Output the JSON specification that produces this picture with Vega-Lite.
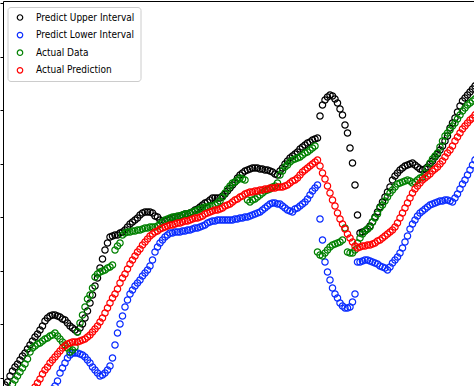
{
"$schema":"https://vega.github.io/schema/vega-lite/v6.json",
"width":471,"height":385,
"autosize":{"type":"none"},
"padding":{"left":3,"top":1,"right":0,"bottom":0},
"background":"white",
"config":{"view":{"stroke":null}},
"data":{"values":[
{"t":0,"u":15,"l":-45,"a":0,"r":-30},{"t":1,"u":18,"l":-43,"a":5,"r":-27},{"t":2,"u":24,"l":-40,"a":10,"r":-23},{"t":3,"u":29,"l":-37,"a":16,"r":-19},{"t":4,"u":33,"l":-34,"a":20,"r":-16},{"t":5,"u":36,"l":-31,"a":24,"r":-13},{"t":6,"u":40,"l":-28,"a":28,"r":-10},{"t":7,"u":44,"l":-25,"a":32,"r":-6},{"t":8,"u":47,"l":-22,"a":36,"r":-2},{"t":9,"u":51,"l":-19,"a":41,"r":1},
{"t":10,"u":55,"l":-16,"a":48,"r":5},{"t":11,"u":59,"l":-13,"a":52,"r":9},{"t":12,"u":63,"l":-10,"a":54,"r":13},{"t":13,"u":66,"l":-7,"a":56,"r":17},{"t":14,"u":70,"l":-4,"a":57,"r":21},{"t":15,"u":74,"l":-1,"a":59,"r":26},{"t":16,"u":79,"l":2,"a":61,"r":30},{"t":17,"u":82,"l":5,"a":62,"r":33},{"t":18,"u":84,"l":8,"a":64,"r":37},{"t":19,"u":85,"l":11,"a":65,"r":40},
{"t":20,"u":85,"l":14,"a":67,"r":43},{"t":21,"u":84,"l":19,"a":64,"r":46},{"t":22,"u":83,"l":27,"a":61,"r":49},{"t":23,"u":81,"l":32,"a":58,"r":52},{"t":24,"u":80,"l":37,"a":55,"r":54},{"t":25,"u":77,"l":42,"a":52,"r":56},{"t":26,"u":74,"l":45,"a":48,"r":57},{"t":27,"u":72,"l":47,"a":50,"r":58},{"t":28,"u":70,"l":47,"a":53,"r":58},{"t":29,"u":68,"l":47,"a":68,"r":58},
{"t":30,"u":72,"l":46,"a":77,"r":59},{"t":31,"u":76,"l":45,"a":85,"r":60},{"t":32,"u":82,"l":43,"a":93,"r":61},{"t":33,"u":89,"l":40,"a":101,"r":63},{"t":34,"u":97,"l":37,"a":105,"r":65},{"t":35,"u":105,"l":33,"a":112,"r":68},{"t":36,"u":114,"l":30,"a":123,"r":71},{"t":37,"u":122,"l":27,"a":126,"r":74},{"t":38,"u":132,"l":24,"a":128,"r":78},{"t":39,"u":141,"l":25,"a":129,"r":82},
{"t":40,"u":150,"l":27,"a":130,"r":87},{"t":41,"u":157,"l":30,"a":132,"r":92},{"t":42,"u":163,"l":34,"a":133,"r":97},{"t":43,"u":164,"l":42,"a":135,"r":102},{"t":44,"u":165,"l":55,"a":150,"r":106},{"t":45,"u":165,"l":67,"a":154,"r":111},{"t":46,"u":167,"l":76,"a":157,"r":117},{"t":47,"u":168,"l":84,"a":165,"r":122},{"t":48,"u":170,"l":93,"a":167,"r":126},{"t":49,"u":173,"l":100,"a":168,"r":131},
{"t":50,"u":176,"l":106,"a":168,"r":136},{"t":51,"u":178,"l":110,"a":169,"r":140},{"t":52,"u":180,"l":114,"a":169,"r":144},{"t":53,"u":182,"l":117,"a":170,"r":148},{"t":54,"u":185,"l":120,"a":170,"r":151},{"t":55,"u":187,"l":124,"a":171,"r":155},{"t":56,"u":188,"l":127,"a":172,"r":158},{"t":57,"u":188,"l":130,"a":172,"r":161},{"t":58,"u":188,"l":134,"a":173,"r":164},{"t":59,"u":187,"l":140,"a":173,"r":166},
{"t":60,"u":184,"l":148,"a":173,"r":168},{"t":61,"u":183,"l":153,"a":174,"r":169},{"t":62,"u":180,"l":157,"a":176,"r":171},{"t":63,"u":178,"l":160,"a":178,"r":172},{"t":64,"u":179,"l":163,"a":180,"r":173},{"t":65,"u":180,"l":165,"a":181,"r":174},{"t":66,"u":181,"l":167,"a":182,"r":175},{"t":67,"u":182,"l":167,"a":183,"r":175},{"t":68,"u":183,"l":168,"a":183,"r":176},{"t":69,"u":183,"l":168,"a":184,"r":177},
{"t":70,"u":184,"l":168,"a":184,"r":177},{"t":71,"u":185,"l":169,"a":185,"r":178},{"t":72,"u":186,"l":169,"a":186,"r":179},{"t":73,"u":186,"l":170,"a":186,"r":179},{"t":74,"u":187,"l":170,"a":187,"r":180},{"t":75,"u":188,"l":171,"a":188,"r":181},{"t":76,"u":190,"l":172,"a":189,"r":182},{"t":77,"u":191,"l":172,"a":190,"r":182},{"t":78,"u":193,"l":173,"a":191,"r":183},{"t":79,"u":195,"l":174,"a":192,"r":184},
{"t":80,"u":197,"l":175,"a":193,"r":186},{"t":81,"u":198,"l":177,"a":193,"r":187},{"t":82,"u":200,"l":178,"a":194,"r":188},{"t":83,"u":202,"l":179,"a":194,"r":189},{"t":84,"u":202,"l":179,"a":195,"r":190},{"t":85,"u":202,"l":180,"a":197,"r":190},{"t":86,"u":202,"l":180,"a":199,"r":191},{"t":87,"u":204,"l":180,"a":203,"r":192},{"t":88,"u":206,"l":180,"a":207,"r":194},{"t":89,"u":209,"l":180,"a":211,"r":195},
{"t":90,"u":212,"l":180,"a":214,"r":196},{"t":91,"u":215,"l":180,"a":217,"r":198},{"t":92,"u":218,"l":181,"a":218,"r":200},{"t":93,"u":222,"l":181,"a":220,"r":201},{"t":94,"u":225,"l":182,"a":222,"r":203},{"t":95,"u":227,"l":182,"a":221,"r":204},{"t":96,"u":229,"l":183,"a":220,"r":206},{"t":97,"u":230,"l":183,"a":200,"r":207},{"t":98,"u":231,"l":184,"a":198,"r":208},{"t":99,"u":232,"l":185,"a":200,"r":208},
{"t":100,"u":232,"l":186,"a":201,"r":209},{"t":101,"u":232,"l":187,"a":203,"r":209},{"t":102,"u":231,"l":188,"a":205,"r":210},{"t":103,"u":231,"l":190,"a":207,"r":210},{"t":104,"u":230,"l":192,"a":209,"r":211},{"t":105,"u":230,"l":194,"a":210,"r":211},{"t":106,"u":229,"l":196,"a":211,"r":212},{"t":107,"u":228,"l":197,"a":213,"r":212},{"t":108,"u":226,"l":197,"a":214,"r":212},{"t":109,"u":225,"l":196,"a":217,"r":213},
{"t":110,"u":229,"l":196,"a":225,"r":213},{"t":111,"u":232,"l":194,"a":229,"r":213},{"t":112,"u":236,"l":192,"a":233,"r":214},{"t":113,"u":239,"l":190,"a":235,"r":215},{"t":114,"u":242,"l":189,"a":238,"r":217},{"t":115,"u":244,"l":188,"a":240,"r":219},{"t":116,"u":246,"l":191,"a":241,"r":220},{"t":117,"u":248,"l":192,"a":242,"r":222},{"t":118,"u":251,"l":194,"a":243,"r":225},{"t":119,"u":253,"l":196,"a":245,"r":228},
{"t":120,"u":255,"l":198,"a":247,"r":230},{"t":121,"u":257,"l":201,"a":248,"r":232},{"t":122,"u":258,"l":205,"a":250,"r":234},{"t":123,"u":260,"l":209,"a":252,"r":236},{"t":124,"u":261,"l":212,"a":254,"r":238},{"t":125,"u":262,"l":215,"a":148,"r":240},{"t":126,"u":284,"l":181,"a":145,"r":234},{"t":127,"u":295,"l":160,"a":144,"r":227},{"t":128,"u":300,"l":138,"a":147,"r":221},{"t":129,"u":303,"l":128,"a":150,"r":214},
{"t":130,"u":305,"l":120,"a":153,"r":207},{"t":131,"u":304,"l":112,"a":155,"r":200},{"t":132,"u":301,"l":106,"a":156,"r":194},{"t":133,"u":297,"l":102,"a":157,"r":187},{"t":134,"u":291,"l":97,"a":158,"r":181},{"t":135,"u":285,"l":94,"a":160,"r":176},{"t":136,"u":275,"l":92,"a":172,"r":171},{"t":137,"u":267,"l":92,"a":148,"r":166},{"t":138,"u":252,"l":93,"a":147,"r":162},{"t":139,"u":237,"l":98,"a":147,"r":158},
{"t":140,"u":215,"l":106,"a":150,"r":154},{"t":141,"u":185,"l":138,"a":157,"r":152},{"t":142,"u":167,"l":138,"a":162,"r":153},{"t":143,"u":168,"l":139,"a":166,"r":154},{"t":144,"u":169,"l":140,"a":169,"r":154},{"t":145,"u":171,"l":140,"a":171,"r":155},{"t":146,"u":174,"l":139,"a":173,"r":155},{"t":147,"u":178,"l":138,"a":178,"r":156},{"t":148,"u":183,"l":137,"a":182,"r":157},{"t":149,"u":188,"l":136,"a":186,"r":159},
{"t":150,"u":193,"l":134,"a":192,"r":160},{"t":151,"u":198,"l":133,"a":195,"r":162},{"t":152,"u":203,"l":132,"a":199,"r":164},{"t":153,"u":208,"l":130,"a":203,"r":166},{"t":154,"u":213,"l":133,"a":207,"r":168},{"t":155,"u":220,"l":137,"a":210,"r":170},{"t":156,"u":224,"l":140,"a":213,"r":173},{"t":157,"u":227,"l":143,"a":216,"r":177},{"t":158,"u":230,"l":147,"a":217,"r":182},{"t":159,"u":232,"l":152,"a":218,"r":187},
{"t":160,"u":234,"l":158,"a":219,"r":192},{"t":161,"u":235,"l":164,"a":220,"r":197},{"t":162,"u":236,"l":171,"a":219,"r":202},{"t":163,"u":237,"l":176,"a":217,"r":207},{"t":164,"u":235,"l":180,"a":218,"r":211},{"t":165,"u":233,"l":184,"a":220,"r":214},{"t":166,"u":231,"l":187,"a":222,"r":217},{"t":167,"u":230,"l":189,"a":223,"r":220},{"t":168,"u":231,"l":191,"a":227,"r":222},{"t":169,"u":233,"l":193,"a":232,"r":224},
{"t":170,"u":236,"l":195,"a":237,"r":226},{"t":171,"u":239,"l":196,"a":241,"r":229},{"t":172,"u":243,"l":197,"a":244,"r":231},{"t":173,"u":246,"l":198,"a":247,"r":233},{"t":174,"u":250,"l":199,"a":253,"r":236},{"t":175,"u":254,"l":199,"a":259,"r":239},{"t":176,"u":259,"l":200,"a":264,"r":243},{"t":177,"u":264,"l":200,"a":267,"r":247},{"t":178,"u":272,"l":199,"a":270,"r":250},{"t":179,"u":277,"l":198,"a":274,"r":254},
{"t":180,"u":282,"l":202,"a":277,"r":259},{"t":181,"u":288,"l":206,"a":281,"r":263},{"t":182,"u":294,"l":211,"a":285,"r":267},{"t":183,"u":299,"l":216,"a":289,"r":271},{"t":184,"u":302,"l":220,"a":292,"r":274},{"t":185,"u":305,"l":225,"a":295,"r":277},{"t":186,"u":308,"l":230,"a":297,"r":280},{"t":187,"u":311,"l":235,"a":299,"r":282},{"t":188,"u":314,"l":240,"a":301,"r":285}
]},
"encoding":{
"x":{"field":"t","type":"quantitative","scale":{"domain":[-0.8,187.6],"nice":false,"zero":false},
"axis":{"orient":"top","ticks":false,"labels":false,"title":null,"grid":false,"domain":true,"domainColor":"#000000","domainWidth":1}}
},
"layer":[
{"mark":{"type":"point","filled":false,"size":40,"strokeWidth":1.2,"opacity":1,"clip":true},
"encoding":{
"y":{"field":"u","type":"quantitative","scale":{"domain":[14,399],"nice":false,"zero":false},
"axis":{"orient":"left","values":[397,343,290,236,183,129,76,22],"labels":false,"ticks":true,"tickSize":3,"tickColor":"#000000","tickWidth":1,"domainColor":"#000000","domainWidth":1,"grid":false,"title":null}},
"color":{"datum":"Predict Upper Interval","type":"nominal",
"scale":{"domain":["Predict Upper Interval","Predict Lower Interval","Actual Data","Actual Prediction"],"range":["#000000","#0a2cff","#008000","#ff0000"]},
"legend":{"orient":"none","legendX":4.5,"legendY":6,"title":null,"padding":5.5,"symbolOffset":2,"labelOffset":11,"rowPadding":5.6,"strokeColor":"#cccccc","fillColor":"#ffffff","cornerRadius":3,"symbolType":"circle","symbolSize":30,"symbolStrokeWidth":1.2,"symbolOpacity":1,"labelFontSize":10,"labelFont":"DejaVu Sans Condensed, Liberation Sans, sans-serif","labelColor":"#000000"}}
}},
{"mark":{"type":"point","filled":false,"size":40,"strokeWidth":1.2,"opacity":1,"clip":true},
"encoding":{"y":{"field":"l","type":"quantitative"},"color":{"datum":"Predict Lower Interval","type":"nominal"}}},
{"mark":{"type":"point","filled":false,"size":40,"strokeWidth":1.2,"opacity":1,"clip":true},
"encoding":{"y":{"field":"a","type":"quantitative"},"color":{"datum":"Actual Data","type":"nominal"}}},
{"mark":{"type":"point","filled":false,"size":40,"strokeWidth":1.2,"opacity":1,"clip":true},
"encoding":{"y":{"field":"r","type":"quantitative"},"color":{"datum":"Actual Prediction","type":"nominal"}}}
]
}
